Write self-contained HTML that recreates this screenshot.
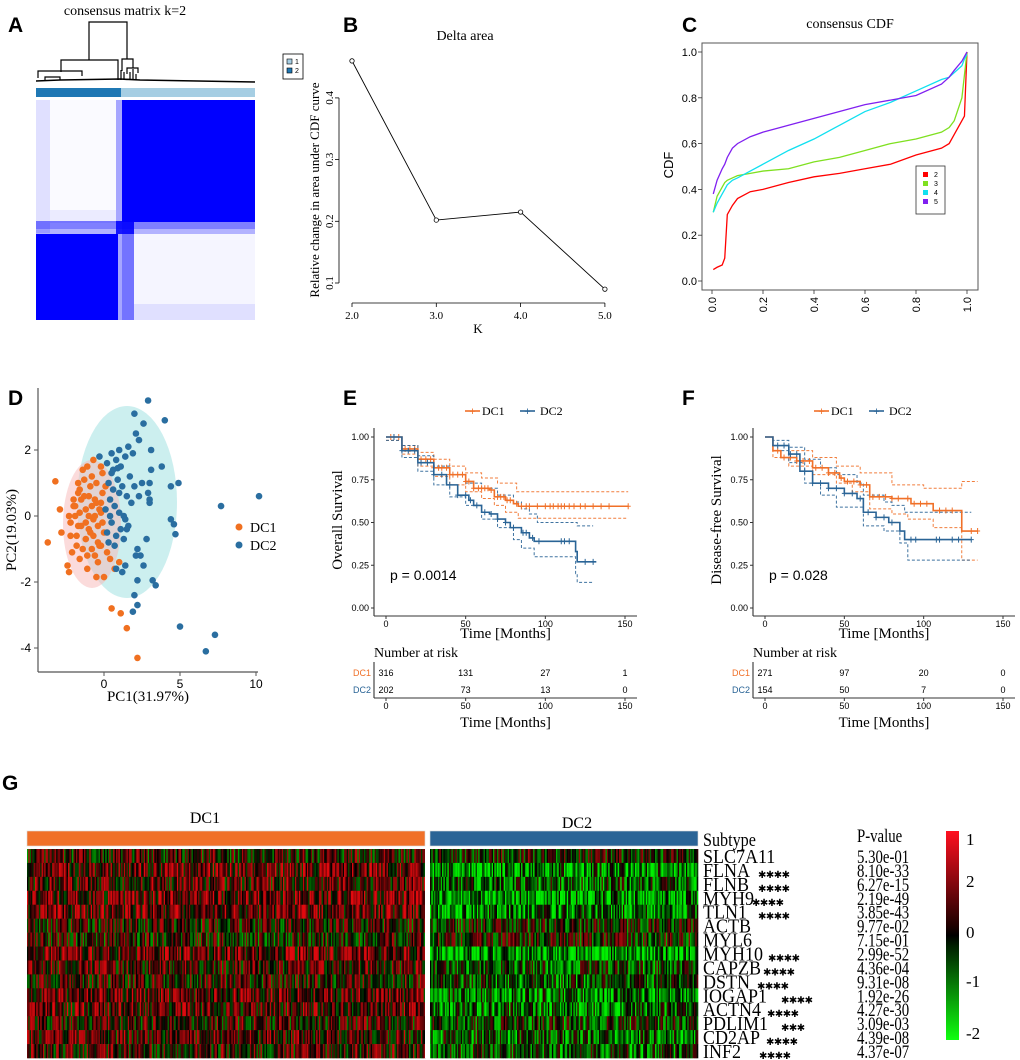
<!DOCTYPE html>
<html><head><meta charset="utf-8">
<style>
html,body{margin:0;padding:0;background:#fff}
svg{display:block}
.serif{font-family:"Liberation Serif",serif}
.sans{font-family:"Liberation Sans",sans-serif}
</style></head>
<body>
<svg id="fig" width="1020" height="1060" viewBox="0 0 1020 1060" xmlns="http://www.w3.org/2000/svg">
<g class="sans" font-weight="bold" font-size="21" fill="#000">
<text x="8" y="32">A</text>
<text x="343" y="32">B</text>
<text x="682" y="32">C</text>
<text x="8" y="405">D</text>
<text x="343" y="405">E</text>
<text x="682" y="405">F</text>
<text x="2" y="790">G</text>
</g>

<g id="panelA">
<text class="serif" x="125" y="15" font-size="14" text-anchor="middle">consensus matrix k=2</text>
<g stroke="#000" stroke-width="1.2" fill="none">
<path d="M89,60 V22 H127 V59"/>
<path d="M61,72 V60 H118 V71"/>
<path d="M38,78 V71 H82 V76"/>
<path d="M122,71 V59 H133 V68"/>
<path d="M127,74 V68 H138 V73"/>
<path d="M45,80 V77 H60 V80"/>
<path d="M36,81 L60,80 L120,79 L140,80 L255,82" stroke-width="1.6"/>
<path d="M118,71 V80 M121,70 V80 M124,72 V80 M130,72 V80 M133,69 V80 M136,74 V80"/>
</g>
<rect x="36" y="88" width="85" height="9" fill="#1f78b4"/>
<rect x="121" y="88" width="134" height="9" fill="#a6cee3"/>
<g>
<rect x="36" y="100" width="219" height="220" fill="#fff"/>
<rect x="36" y="100" width="14" height="133" fill="#0000ff" opacity="0.12"/>
<rect x="50" y="100" width="66" height="110" fill="#0000ff" opacity="0.02"/>
<rect x="50" y="210" width="66" height="13" fill="#0000ff" opacity="0.08"/>
<rect x="116" y="100" width="6" height="220" fill="#0000ff" opacity="0.35"/>
<rect x="122" y="100" width="12" height="220" fill="#0000ff" opacity="0.55"/>
<rect x="122" y="100" width="133" height="122" fill="#0000ff"/>
<rect x="36" y="221" width="219" height="8" fill="#0000ff" opacity="0.5"/>
<rect x="36" y="229" width="219" height="5" fill="#0000ff" opacity="0.3"/>
<rect x="116" y="221" width="18" height="13" fill="#0000ff" opacity="0.8"/>
<rect x="36" y="234" width="82" height="86" fill="#0000ff"/>
<rect x="134" y="234" width="121" height="70" fill="#0000ff" opacity="0.04"/>
<rect x="134" y="304" width="121" height="16" fill="#0000ff" opacity="0.12"/>
<rect x="36" y="305" width="14" height="15" fill="#0000ff" opacity="0.85"/>
</g>
</g>

<g id="panelB">
<text class="serif" x="465" y="40" font-size="14" text-anchor="middle">Delta area</text>
<g>
<rect x="283" y="54" width="20" height="25" fill="#fff" stroke="#000" stroke-width="0.8"/>
<rect x="287" y="59" width="5" height="5" fill="#a6cee3" stroke="#000" stroke-width="0.6"/>
<rect x="287" y="68" width="5" height="5" fill="#1f78b4" stroke="#000" stroke-width="0.6"/>
<text class="sans" x="295" y="64" font-size="7">1</text>
<text class="sans" x="295" y="73" font-size="7">2</text>
</g>
<g id="bAxes"></g>
<text class="serif" x="478" y="333" font-size="13" text-anchor="middle">K</text>
<text class="serif" transform="translate(319,190) rotate(-90)" font-size="13" text-anchor="middle">Relative change in area under CDF curve</text>
<g id="bMarks"></g>
</g>

<g id="panelC">
<text class="serif" x="850" y="28" font-size="14" text-anchor="middle">consensus CDF</text>
<rect x="702" y="43" width="276" height="247" fill="none" stroke="#555" stroke-width="1"/>
<text class="sans" transform="translate(673,165) rotate(-90)" font-size="13" text-anchor="middle">CDF</text>
<g id="cAxes"></g>
<g id="cMarks"></g>
<g>
<rect x="916" y="166" width="29" height="48" fill="#fff" stroke="#333" stroke-width="0.8"/>
<rect x="923" y="172" width="5" height="5" fill="#ff0000"/>
<rect x="923" y="181" width="5" height="5" fill="#7fe020"/>
<rect x="923" y="190" width="5" height="5" fill="#10e0f0"/>
<rect x="923" y="199" width="5" height="5" fill="#8020f0"/>
<g class="sans" font-size="7"><text x="934" y="177">2</text><text x="934" y="186">3</text><text x="934" y="195">4</text><text x="934" y="204">5</text></g>
</g>
</g>

<g id="panelD">
<ellipse cx="127" cy="502" rx="50" ry="96" fill="#7fd8d8" opacity="0.4"/>
<ellipse cx="92" cy="524" rx="29" ry="64" fill="#f8b8b8" opacity="0.5"/>
<g id="dMarks"></g>
<g id="dAxes"></g>
<text class="serif" x="148" y="701" font-size="15" text-anchor="middle">PC1(31.97%)</text>
<text class="serif" transform="translate(16,530) rotate(-90)" font-size="15" text-anchor="middle">PC2(19.03%)</text>
<g>
<circle cx="239" cy="527" r="3.5" fill="#f07020"/>
<circle cx="239" cy="545" r="3.5" fill="#2a6ea0"/>
<text class="serif" x="250" y="532" font-size="14">DC1</text>
<text class="serif" x="250" y="550" font-size="14">DC2</text>
</g>
</g>

<g id="panelE"></g>
<g id="panelF"></g>

<g id="panelG">
<text class="serif" x="205" y="823" font-size="16" text-anchor="middle">DC1</text>
<text class="serif" x="577" y="828" font-size="16" text-anchor="middle">DC2</text>
<rect x="27" y="831" width="398" height="15" fill="#f07028" stroke="#ddd" stroke-width="0.6"/>
<rect x="430" y="831" width="268" height="15" fill="#2a6496" stroke="#ddd" stroke-width="0.6"/>
<g id="gCells"></g>
<g transform="translate(703,0) scale(0.85,1)"><text class="serif" x="0" y="846" font-size="19">Subtype</text></g>
<g transform="translate(857,0) scale(0.78,1)"><text class="serif" x="0" y="842" font-size="19">P-value</text></g>
<g id="gLabels"></g>
<defs><linearGradient id="cbar" x1="0" y1="0" x2="0" y2="1">
<stop offset="0" stop-color="#ff1020"/><stop offset="0.45" stop-color="#200000"/><stop offset="0.5" stop-color="#000"/><stop offset="0.55" stop-color="#002000"/><stop offset="1" stop-color="#10ff10"/></linearGradient></defs>
<rect x="946" y="831" width="13" height="209" fill="url(#cbar)"/>
<g class="serif" font-size="17">
<text x="966" y="845">1</text><text x="966" y="887">2</text><text x="966" y="938">0</text><text x="966" y="987">-1</text><text x="966" y="1039">-2</text>
</g>
</g>
</svg>
<script>
const NS="http://www.w3.org/2000/svg";
function mk(parent,tag,attrs,text){const e=document.createElementNS(NS,tag);for(const k in attrs)e.setAttribute(k,attrs[k]);if(text!==undefined)e.textContent=text;parent.appendChild(e);return e;}

const bK=[2,3,4,5];
const bDelta=[0.46,0.202,0.215,0.09];
const bXTicks=[2,3,4,5];
const bXTickLabels=["2.0","3.0","4.0","5.0"];
const bYTicks=[0.1,0.2,0.3,0.4];
const cX=[0.005,0.02,0.04,0.05,0.06,0.08,0.1,0.15,0.2,0.3,0.4,0.5,0.6,0.7,0.8,0.9,0.93,0.95,0.98,0.99,1.0];
const cdfK2=[.05,.06,.07,.10,.29,.33,.36,.39,.40,.43,.455,.47,.49,.51,.55,.58,.60,.64,.70,.72,1.0];
const cdfK3=[.30,.37,.41,.43,.44,.45,.46,.47,.48,.49,.52,.54,.57,.60,.62,.65,.67,.70,.80,.90,1.0];
const cdfK4=[.30,.34,.38,.40,.42,.44,.45,.48,.51,.57,.62,.68,.74,.78,.83,.88,.89,.91,.94,.97,.99];
const cdfK5=[.38,.44,.49,.51,.54,.58,.60,.63,.65,.68,.71,.74,.77,.79,.81,.86,.89,.92,.96,.98,1.0];
const cTicks=[0,0.2,0.4,0.6,0.8,1.0];
const cTickLabels=["0.0","0.2","0.4","0.6","0.8","1.0"];
const dc1PC1=[-3.2,-2.9,-3.7,-2.8,-2.4,-2.3,0.5,1.1,1.5,2.2,-0.5,0,-1.1,1.0,0.7,-0.7,-0.2,
-2.2,-2.0,-1.8,-1.6,-1.4,-1.2,-1.0,-0.8,-0.6,-0.4,-0.2,0.0,-2.1,-1.9,-1.7,-1.5,-1.3,-1.1,-0.9,-0.7,-0.5,-0.3,-0.1,
-2.0,-1.6,-1.2,-0.8,-0.4,-0.1,-1.8,-1.4,-1.0,-0.6,-0.2,-2.2,-1.7,-1.3,-0.9,-0.5,-0.1,-1.5,-1.1,-0.7,-0.3,-1.9,-1.0,-0.6,-0.2,-2.3,-1.6,-0.8,0.2,0.4,-1.2,-0.4,0.1,-1.7];
const dc1PC2=[1.05,0.2,-0.8,-0.5,-1.5,-1.7,-2.8,-2.95,-3.4,-4.3,-1.85,-1.85,-1.6,-1.4,-1.6,1.7,1.5,
-0.2,0.3,-0.6,0.8,-1.0,0.2,-0.4,1.2,0.5,-0.8,0.1,-0.5,-1.1,0.0,1.0,-0.3,0.6,-1.2,0.9,-0.1,0.4,-0.9,1.3,
0.5,0.1,-0.7,0.3,-0.3,0.7,-0.9,1.4,0.0,-1.2,-0.9,-0.6,-0.3,1.1,-0.5,1.0,-0.2,0.5,1.5,-0.6,0.2,0.3,0.6,0.0,0.4,0.0,-1.3,-1.0,-1.1,-1.3,-0.2,-1.4,0.9,0.7];
const dc2PC1=[2.9,2.0,4.0,2.6,2.1,2.3,1.6,3.1,4.9,4.4,3.8,3.1,7.7,10.2,4.4,4.6,4.7,2.8,2.2,2.4,2.1,2.6,1.4,1.2,0.8,3.2,3.4,2.2,2.0,2.2,1.9,5.0,7.3,6.7,1.9,1.0,0.5,-0.3,3.0,2.9,2.3,3.0,3.0,
0.2,0.5,0.8,1.1,1.4,1.7,0.3,0.6,0.9,1.2,1.5,1.8,0.1,0.4,0.7,1.0,1.3,1.6,0.2,0.5,0.8,1.1,1.4,0.3,0.7,1.0,1.3,0.6,0.9,2.0,2.5,1.5,0.4];
const dc2PC2=[3.5,3.1,2.9,2.8,2.5,2.3,2.1,2.0,1.0,0.9,1.5,1.4,0.3,0.6,-0.1,-0.25,-0.55,-0.7,-1.0,-1.2,-1.2,-1.5,-1.5,-1.7,-1.6,-1.95,-2.1,-1.95,-2.4,-2.7,-2.9,-3.35,-3.6,-4.1,1.9,2.0,1.9,1.8,1.0,0.7,0.6,0.5,0.4,
1.6,1.3,1.7,1.5,1.8,1.2,1.0,0.8,1.1,0.9,0.6,0.4,0.2,0.5,0.3,0.1,0.0,-0.3,-0.5,-0.2,-0.6,-0.4,-0.1,-0.8,-0.9,0.7,-0.7,1.4,1.45,0.9,1.0,-0.4,0.0];
const dXTicks=[0,5,10];
const dYTicks=[2,0,-2,-4];
const eDC1T=[0,10,20,30,40,50,55,65,68,75,80,83,152];
const eDC1S=[1,.93,.87,.82,.78,.74,.70,.69,.65,.63,.61,.595,.595];
const eDC1UT=[0,10,20,30,40,50,60,70,82,152];
const eDC1U=[1,.95,.91,.87,.83,.79,.76,.73,.68,.68];
const eDC1LT=[0,10,20,30,40,50,60,68,75,83,152];
const eDC1L=[.98,.90,.83,.77,.72,.68,.64,.60,.56,.525,.525];
const eDC2T=[0,10,20,30,38,45,52,55,60,65,70,75,78,85,90,93,118,119,120,132];
const eDC2S=[1,.92,.85,.78,.72,.66,.63,.60,.56,.55,.52,.50,.47,.44,.41,.39,.39,.33,.27,.27];
const eDC2UT=[0,10,20,30,40,50,60,70,80,85,90,95,120,130];
const eDC2U=[1,.95,.89,.83,.78,.73,.70,.66,.62,.58,.55,.50,.48,.48];
const eDC2LT=[0,10,20,30,40,50,60,70,80,85,93,118,119,120,130];
const eDC2L=[.98,.88,.80,.72,.65,.60,.52,.47,.40,.35,.30,.30,.20,.15,.15];
const eDC1Cens=[3,8,12,15,18,22,25,28,30,33,35,38,40,42,45,48,50,52,55,58,60,62,64,66,70,72,74,76,78,82,85,88,90,95,100,103,105,108,110,112,115,118,122,125,130,135,140,152];
const eDC2Cens=[5,10,14,18,22,26,30,35,40,45,50,53,57,62,66,70,75,80,86,88,92,96,110,112,115,125,130];
const eRiskDC1=[316,131,27,1];
const eRiskDC2=[202,73,13,0];
const fDC1T=[0,5,10,20,30,40,47,50,60,66,80,92,106,124,134];
const fDC1S=[1,.92,.88,.86,.82,.79,.76,.74,.72,.65,.64,.61,.57,.45,.45];
const fDC1UT=[0,5,15,30,45,60,66,80,100,123,124,134];
const fDC1U=[1,.95,.92,.88,.83,.79,.79,.72,.70,.70,.74,.74];
const fDC1LT=[0,5,15,30,45,55,66,80,90,106,110,124,134];
const fDC1L=[1,.88,.83,.78,.73,.68,.58,.55,.52,.47,.47,.28,.28];
const fDC2T=[0,5,15,22,30,40,50,58,62,70,78,85,88,130];
const fDC2S=[1,.95,.90,.80,.73,.70,.67,.64,.56,.53,.50,.45,.40,.40];
const fDC2UT=[0,5,15,25,35,45,58,62,75,80,88,130];
const fDC2U=[1,.98,.94,.87,.82,.78,.73,.66,.62,.60,.56,.56];
const fDC2LT=[0,5,15,25,35,45,55,62,75,85,90,130];
const fDC2L=[1,.92,.85,.73,.66,.59,.59,.48,.45,.38,.28,.28];
const fDC1Cens=[8,12,16,20,24,28,32,36,40,44,48,52,56,60,64,68,72,76,80,84,90,94,98,102,110,114,118,130,134];
const fDC2Cens=[8,12,16,20,25,30,35,40,45,50,55,60,65,70,75,80,92,95,108,110,118,122,130];
const fRiskDC1=[271,97,20,0];
const fRiskDC2=[154,50,7,0];
const kmTicks=[0,50,100,150];
const kmYTicks=[0,0.25,0.5,0.75,1.0];
const kmYLabels=["0.00","0.25","0.50","0.75","1.00"];
const genes=["SLC7A11","FLNA","FLNB","MYH9","TLN1","ACTB","MYL6","MYH10","CAPZB","DSTN","IOGAP1","ACTN4","PDLIM1","CD2AP","INF2"];
const stars=["","✱✱✱✱","✱✱✱✱","✱✱✱✱","✱✱✱✱","","","✱✱✱✱","✱✱✱✱","✱✱✱✱","✱✱✱✱","✱✱✱✱","✱✱✱","✱✱✱✱","✱✱✱✱"];
const starOffsets=[0,55,55,49,55,0,0,65,60,54,78,64,78,63,56];
const pvalues=["5.30e-01","8.10e-33","6.27e-15","2.19e-49","3.85e-43","9.77e-02","7.15e-01","2.99e-52","4.36e-04","9.31e-08","1.92e-26","4.27e-30","3.09e-03","4.39e-08","4.37e-07"];
const meanDC1=[0.2,0.8,0.5,0.8,0.8,0.2,0.1,0.8,0.4,0.3,0.7,0.6,0.3,0.5,0.4];
const meanDC2=[0.0,-1.0,-0.6,-1.2,-1.0,-0.1,0.0,-1.3,-0.5,-0.5,-0.9,-0.8,-0.3,-0.6,-0.5];
const nDC1=300, nDC2=200;

(function(){
 const xs=k=>352+(k-2)*84.3, ys=v=>283-(v-0.1)*617;
 const ax=document.getElementById('bAxes');
 mk(ax,'line',{x1:xs(2),x2:xs(5),y1:303,y2:303,stroke:'#000','stroke-width':0.8,});
 bXTicks.forEach((t,i)=>{mk(ax,'line',{x1:xs(t),x2:xs(t),y1:303,y2:307,stroke:'#000','stroke-width':0.8});
  mk(ax,'text',{x:xs(t),y:319,'font-size':11,'text-anchor':'middle',class:'serif'},bXTickLabels[i]);});
 mk(ax,'line',{x1:339,x2:339,y1:ys(0.1),y2:ys(0.4),stroke:'#000','stroke-width':0.8,});
 bYTicks.forEach(t=>{mk(ax,'line',{x1:335,x2:339,y1:ys(t),y2:ys(t),stroke:'#000','stroke-width':0.8});
  mk(ax,'text',{transform:`translate(333,${ys(t)}) rotate(-90)`,'font-size':11,'text-anchor':'middle',class:'serif'},t.toFixed(1));});
 const m=document.getElementById('bMarks');
 const line=mk(m,'polyline',{points:bK.map((k,i)=>xs(k)+','+ys(bDelta[i])).join(' '),fill:'none',stroke:'#000','stroke-width':0.9});
 
 
 bK.forEach((k,i)=>{const c=mk(m,'circle',{cx:xs(k),cy:ys(bDelta[i]),r:2.2,fill:'#fff',stroke:'#000','stroke-width':0.8});
  
  });
})();

(function(){
 const xs=v=>712+v*255, ys=v=>281-v*229;
 const ax=document.getElementById('cAxes');
 cTicks.forEach((t,i)=>{
  mk(ax,'line',{x1:698,x2:702,y1:ys(t),y2:ys(t),stroke:'#333','stroke-width':0.8});
  mk(ax,'text',{x:697,y:ys(t)+4,'font-size':11,'text-anchor':'end',class:'sans'},cTickLabels[i]);
  mk(ax,'line',{x1:xs(t),x2:xs(t),y1:290,y2:294,stroke:'#333','stroke-width':0.8});
  mk(ax,'text',{transform:`translate(${xs(t)+4},297) rotate(-90)`,'font-size':11,'text-anchor':'end',class:'sans'},cTickLabels[i]);
 });
 const m=document.getElementById('cMarks');
 [[cdfK2,'#ff0000','cdf-k2'],[cdfK3,'#7fe020','cdf-k3'],[cdfK4,'#10e0f0','cdf-k4'],[cdfK5,'#8020f0','cdf-k5']].forEach(([arr,col,nm])=>{
  const p=mk(m,'polyline',{points:cX.map((x,i)=>xs(x)+','+ys(arr[i])).join(' '),fill:'none',stroke:col,'stroke-width':1.3});
  
  
 });
})();

(function(){
 const xs=v=>104+v*15.2, ys=v=>516-v*33;
 const m=document.getElementById('dMarks');
 dc1PC1.forEach((x,i)=>{const c=mk(m,'circle',{cx:xs(x),cy:ys(dc1PC2[i]),r:3.3,fill:'#f07020'});
  
  });
 dc2PC1.forEach((x,i)=>{const c=mk(m,'circle',{cx:xs(x),cy:ys(dc2PC2[i]),r:3.3,fill:'#2a6ea0'});
  
  });
 const ax=document.getElementById('dAxes');
 mk(ax,'line',{x1:38,x2:38,y1:388,y2:672,stroke:'#555','stroke-width':1.2,});
 mk(ax,'line',{x1:38,x2:258,y1:672,y2:672,stroke:'#555','stroke-width':1.2,});
 dXTicks.forEach(t=>{mk(ax,'line',{x1:xs(t),x2:xs(t),y1:672,y2:676,stroke:'#555'});
  mk(ax,'text',{x:xs(t),y:688,'font-size':12,'text-anchor':'middle',class:'sans'},t);});
 dYTicks.forEach(t=>{mk(ax,'line',{x1:34,x2:38,y1:ys(t),y2:ys(t),stroke:'#555'});
  mk(ax,'text',{x:31,y:ys(t)+4,'font-size':12,'text-anchor':'end',class:'sans'},t);});
})();

function stepPts(T,S,xs,ys){let d='M'+xs(T[0])+','+ys(S[0]);for(let i=1;i<T.length;i++){d+=' H'+xs(T[i])+' V'+ys(S[i]);}return d;}
function survAt(T,S,t){let v=S[0];for(let i=0;i<T.length;i++){if(T[i]<=t)v=S[i];}return v;}
function drawKM(g,o){
 const x0=o.x0, x150=o.x150, xs=t=>x0+(x150-x0)*t/150, ys=v=>608-v*171;
 const axL=o.axL;
 const lg=mk(g,'g',{});
 
 
 mk(lg,'line',{x1:o.legX,x2:o.legX+15,y1:411,y2:411,stroke:'#f07028','stroke-width':1.6});
 mk(lg,'text',{x:o.legX+7.5,y:415,'font-size':11,'text-anchor':'middle',fill:'#f07028',class:'sans'},'+');
 mk(lg,'text',{x:o.legX+17,y:415,'font-size':12,class:'serif'},'DC1');
 mk(lg,'line',{x1:o.legX+55,x2:o.legX+70,y1:411,y2:411,stroke:'#2a6496','stroke-width':1.6});
 mk(lg,'text',{x:o.legX+62.5,y:415,'font-size':11,'text-anchor':'middle',fill:'#2a6496',class:'sans'},'+');
 mk(lg,'text',{x:o.legX+75,y:415,'font-size':12,class:'serif'},'DC2');
 mk(g,'line',{x1:axL,x2:axL,y1:428,y2:616,stroke:'#333','stroke-width':1.1,});
 mk(g,'line',{x1:axL,x2:x150+12,y1:616,y2:616,stroke:'#333','stroke-width':1.1,});
 kmYTicks.forEach((t,i)=>{mk(g,'line',{x1:axL-3,x2:axL,y1:ys(t),y2:ys(t),stroke:'#333'});
  mk(g,'text',{x:axL-5,y:ys(t)+3,'font-size':9,'text-anchor':'end',class:'sans'},kmYLabels[i]);});
 kmTicks.forEach(t=>{mk(g,'line',{x1:xs(t),x2:xs(t),y1:616,y2:619,stroke:'#333'});
  mk(g,'text',{x:xs(t),y:627,'font-size':9,'text-anchor':'middle',class:'sans'},t);});
 mk(g,'text',{x:(x0+x150)/2,y:638,'font-size':15,'text-anchor':'middle',class:'serif',},'Time [Months]');
 mk(g,'text',{transform:`translate(${axL-32},520) rotate(-90)`,'font-size':15,'text-anchor':'middle',class:'serif',},o.ylab);
 mk(g,'text',{x:o.pX,y:580,'font-size':14,class:'sans',},o.ptext);
 [[o.d1UT,o.d1U,'#f07028'],[o.d1LT,o.d1L,'#f07028'],[o.d2UT,o.d2U,'#2a6496'],[o.d2LT,o.d2L,'#2a6496']].forEach(([T,S,c])=>{
  const p=mk(g,'path',{d:stepPts(T,S,xs,ys),fill:'none',stroke:c,'stroke-width':1,'stroke-dasharray':'3,2',opacity:0.9});
  
  
 });
 [[o.d1T,o.d1S,'#f07028',o.c1,'dc1-survival-curve'],[o.d2T,o.d2S,'#2a6496',o.c2,'dc2-survival-curve']].forEach(([T,S,c,cens,nm])=>{
  const p=mk(g,'path',{d:stepPts(T,S,xs,ys),fill:'none',stroke:c,'stroke-width':1.6});
  
  
  cens.forEach(t=>{const v=survAt(T,S,t);
   mk(g,'path',{d:`M${xs(t)},${ys(v)-3} v6 M${xs(t)-2.5},${ys(v)} h5`,stroke:c,'stroke-width':1});});
 });
 mk(g,'text',{x:axL,y:657,'font-size':14,class:'serif',},'Number at risk');
 mk(g,'line',{x1:axL,x2:axL,y1:662,y2:698,stroke:'#333','stroke-width':1.1});
 mk(g,'line',{x1:axL,x2:x150+12,y1:698,y2:698,stroke:'#333','stroke-width':1.1});
 mk(g,'text',{x:axL-3,y:676,'font-size':9,'text-anchor':'end',fill:'#f07028',class:'sans'},'DC1');
 mk(g,'text',{x:axL-3,y:693,'font-size':9,'text-anchor':'end',fill:'#2a6496',class:'sans'},'DC2');
 kmTicks.forEach((t,i)=>{
  const a=mk(g,'text',{x:xs(t),y:676,'font-size':9,'text-anchor':'middle',class:'sans'},o.r1[i]);
  
  
  const b=mk(g,'text',{x:xs(t),y:693,'font-size':9,'text-anchor':'middle',class:'sans'},o.r2[i]);
  
  
  mk(g,'line',{x1:xs(t),x2:xs(t),y1:698,y2:701,stroke:'#333'});
  mk(g,'text',{x:xs(t),y:709,'font-size':9,'text-anchor':'middle',class:'sans'},t);
 });
 mk(g,'text',{x:(x0+x150)/2,y:727,'font-size':15,'text-anchor':'middle',class:'serif'},'Time [Months]');
}
drawKM(document.getElementById('panelE'),{x0:386,x150:625,axL:374,legX:465,ylab:'Overall Survival',ptext:'p = 0.0014',pX:390,
 d1T:eDC1T,d1S:eDC1S,d1UT:eDC1UT,d1U:eDC1U,d1LT:eDC1LT,d1L:eDC1L,d2T:eDC2T,d2S:eDC2S,d2UT:eDC2UT,d2U:eDC2U,d2LT:eDC2LT,d2L:eDC2L,
 c1:eDC1Cens,c2:eDC2Cens,r1:eRiskDC1,r2:eRiskDC2});
drawKM(document.getElementById('panelF'),{x0:765,x150:1003,axL:753,legX:814,ylab:'Disease-free Survival',ptext:'p = 0.028',pX:769,
 d1T:fDC1T,d1S:fDC1S,d1UT:fDC1UT,d1U:fDC1U,d1LT:fDC1LT,d1L:fDC1L,d2T:fDC2T,d2S:fDC2S,d2UT:fDC2UT,d2U:fDC2U,d2LT:fDC2LT,d2L:fDC2L,
 c1:fDC1Cens,c2:fDC2Cens,r1:fRiskDC1,r2:fRiskDC2});

(function(){
 const g=document.getElementById('gCells');
 const top=849, rh=(1058-849)/genes.length;
 function tex(a,b){let h=(a*374761393+b*668265263)>>>0;h=((h^(h>>>13))*1274126177)>>>0;h=(h^(h>>>16))>>>0;return (h%1000)/1000;}
 function col(v){if(v>=0){const r=Math.round(Math.min(v/2.0,1)*225);return `rgb(${r},${Math.round(r*0.04)},${Math.round(r*0.06)})`;}
  const gg=Math.round(Math.min(-v/2.0,1)*240);return `rgb(0,${gg},0)`;}
 const groups=[[nDC1,27,398,meanDC1],[nDC2,430,268,meanDC2]];
 genes.forEach((gn,r)=>{
  const row=mk(g,'g',{});
  
  
  groups.forEach(([n,x0,w,means],gi)=>{
   const cw=w/n;
   for(let c=0;c<n;c++){
    const v=means[r]+(tex(c+gi*1000,r)-0.5)*3.0;
    mk(row,'rect',{x:(x0+c*cw).toFixed(2),y:(top+r*rh).toFixed(2),width:(cw+0.3).toFixed(2),height:(rh+0.3).toFixed(2),fill:col(v)});
   }
  });
 });
 mk(g,'rect',{x:425,y:top,width:5,height:209,fill:'#fff'});
 const L=document.getElementById('gLabels');
 genes.forEach((gn,r)=>{
  const y=top+r*rh+rh/2+7;
  const t=mk(L,'text',{transform:`translate(703,${y}) scale(0.9,1)`,'font-size':20,class:'serif'},gn);
  
  
  if(stars[r]){const s=mk(L,'text',{x:703+starOffsets[r],y:y+1,'font-size':10,'font-family':'DejaVu Sans, sans-serif','letter-spacing':'-0.5'},stars[r]);
   
   }
  const p=mk(L,'text',{transform:`translate(857,${y}) scale(0.78,1)`,'font-size':19,class:'serif'},pvalues[r]);
  
  
 });
})();
</script>
</body></html>
